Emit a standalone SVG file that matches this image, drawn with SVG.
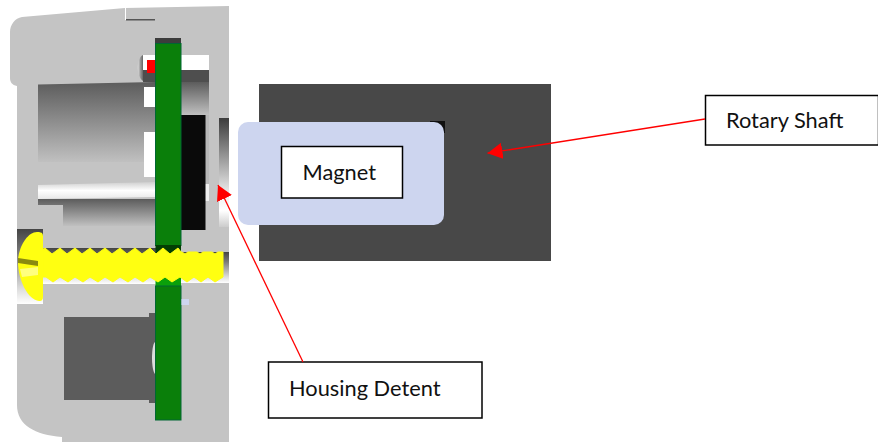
<svg xmlns="http://www.w3.org/2000/svg" width="878" height="442" viewBox="0 0 878 442">
<style>
.label{fill:#fff;stroke:#000;stroke-width:1.5}
.txt{font-family:"Lato","Carlito","Liberation Sans",sans-serif;font-size:21.800px;fill:#111}
.conn{fill:none;stroke:#f00;stroke-width:1.3}
.gr{fill:#c4c4c4}
</style>
<defs>
<marker id="arrow" markerUnits="userSpaceOnUse" markerWidth="16" markerHeight="17" refX="15" refY="8.25" orient="auto"><path d="M0 0L15 8.25L0 16.5Z" fill="#f00"/></marker>
<linearGradient id="g1" x1="0" y1="0" x2="0" y2="1"><stop offset="0" stop-color="#5c5c5c"/><stop offset="1" stop-color="#c0c0c0"/></linearGradient>
<linearGradient id="g2" x1="0" y1="0" x2="0" y2="1"><stop offset="0" stop-color="#cfcfcf"/><stop offset=".5" stop-color="#fff"/><stop offset="1" stop-color="#e8e8e8"/></linearGradient>
<linearGradient id="g3" x1="0" y1="0" x2="0" y2="1"><stop offset="0" stop-color="#3c3c3c"/><stop offset=".7" stop-color="#eee"/><stop offset=".85" stop-color="#fff"/><stop offset="1" stop-color="#ccc"/></linearGradient>
<linearGradient id="g4" x1="0" y1="0" x2="0" y2="1"><stop offset="0" stop-color="#444"/><stop offset=".3" stop-color="#777"/><stop offset=".8" stop-color="#ddd"/><stop offset="1" stop-color="#fff"/></linearGradient>
<linearGradient id="g5" x1="0" y1="0" x2="1" y2="0"><stop offset="0" stop-color="#ddd"/><stop offset=".5" stop-color="#999"/><stop offset="1" stop-color="#666"/></linearGradient>
</defs>
<g id="housing">
<path class="gr" d="M125 8L229 6V442H62V437C35 435 17 425 17 405V86C12 85 10 82 10 78V32C10 25 15 18 22 17Z"/>
<path d="M125.500 8V20" stroke="#fff" stroke-width="1" fill="none"/>
<rect x="126" y="19" width="29" height="1.500" fill="#555"/>
<path d="M38 84.500L155 82V162H38Z" fill="url(#g1)"/>
<path d="M143 82H209V115H181V82H143Z" fill="url(#g1)"/>
<rect x="205" y="115" width="4" height="70" fill="#b8b8b8"/>
<rect x="38" y="162" width="117" height="22" fill="#c4c4c4"/>
<path d="M38 185L155 182V197L38 199Z" fill="url(#g2)"/>
<rect x="205" y="184" width="4" height="17" fill="#eee"/>
<path d="M38 199H155V226H63V205H38Z" fill="url(#g1)"/>
<rect x="143" y="55" width="66" height="15" fill="#fff"/>
<rect x="143" y="70" width="66" height="12" fill="#4e4e4e"/>
<path d="M143 55C136 58 136 77 143 81Z" fill="url(#g5)"/>
<rect x="144" y="87" width="11" height="20" fill="#fff"/>
<rect x="144" y="132" width="11" height="45" fill="#fff"/>
<rect x="147" y="60" width="8" height="13" fill="#f00"/>
<rect x="219" y="118" width="10" height="109" fill="url(#g3)"/>
<rect x="155" y="38" width="26" height="6" fill="#3c3c3c"/>
<rect x="181" y="115" width="24.500" height="115" fill="#0a0a0a"/>
<rect x="17" y="229" width="26" height="75" fill="url(#g4)"/>
<rect x="43" y="248" width="138" height="36" fill="url(#g4)"/>
<rect x="181" y="252" width="48" height="31" fill="url(#g4)"/>
<rect x="155.500" y="43.500" width="25.500" height="202" fill="#0a7f0a" stroke="#063" stroke-width="1"/>
<rect x="155.500" y="245" width="25.500" height="13" fill="#033f03"/>
<rect x="155.500" y="275" width="25.500" height="11" fill="#0aa00a"/>
<rect x="155.500" y="286" width="25.500" height="134" fill="#0a7f0a" stroke="#063" stroke-width="1"/>
<rect x="181.500" y="299" width="7.500" height="6" fill="#cdd5ef"/>
<rect x="64" y="317" width="86" height="83" fill="#5c5c5c"/>
<rect x="149" y="313" width="6" height="90" fill="#5c5c5c"/>
<path d="M155 342C151 345 151 370 155 374Z" fill="#ddd"/>
<path d="M43 249L45 248L52 254L60 248L67 254L75 248L82 254L90 248L97 254L105 248L112 254L120 248L127 254L135 248L142 254L150 248L156 254L163 248L170 254L178 248L181 252H182L185 254L188 252H197L200 254L203 252H212L215 254L218 252H223V277L215 282L208 277L201 282L194 277L187 282L180 277L172 282L165 277L158 282L150 277L143 282L135 277L128 282L120 277L113 282L105 277L98 282L90 277L83 282L75 277L68 282L60 277L53 282L46 277H43Z" fill="#ff1" stroke="#ff1" stroke-width="1" stroke-linejoin="round"/>
<path d="M37 232C43 232 43 234 43 238V296C43 300 42 301 39 301C28 300 18 280 18 262C18 248 27 232 37 232Z" fill="#ff1"/>
<path d="M18 258L38 261V266L18 263Z" fill="#8a8a10"/>
<path d="M20 269L38 267V275L22 277Z" fill="#ffff80"/>
</g>
<g id="rotary-shaft">
<rect x="259" y="84" width="292" height="177" fill="#484848"/>
<rect x="430" y="121" width="15" height="12" fill="#111"/>
</g>
<g id="magnet">
<rect x="238" y="122" width="206" height="103" rx="10" fill="#cdd5ef"/>
<rect class="label" x="281.500" y="146.500" width="121" height="51.500"/>
<text class="txt" x="302.500" y="180">Magnet</text>
</g>
<g id="rotary-shaft-label">
<rect class="label" x="705.500" y="95.500" width="173" height="49.500"/>
<text class="txt" x="726" y="128">Rotary Shaft</text>
</g>
<g id="housing-detent-label">
<rect class="label" x="268.500" y="362" width="213.500" height="56"/>
<text class="txt" x="289" y="396">Housing Detent</text>
</g>
<g id="connectors">
<path class="conn" d="M705 119L487.500 153.200" marker-end="url(#arrow)"/>
<path class="conn" d="M303 362L218 185" marker-end="url(#arrow)"/>
</g>
</svg>
